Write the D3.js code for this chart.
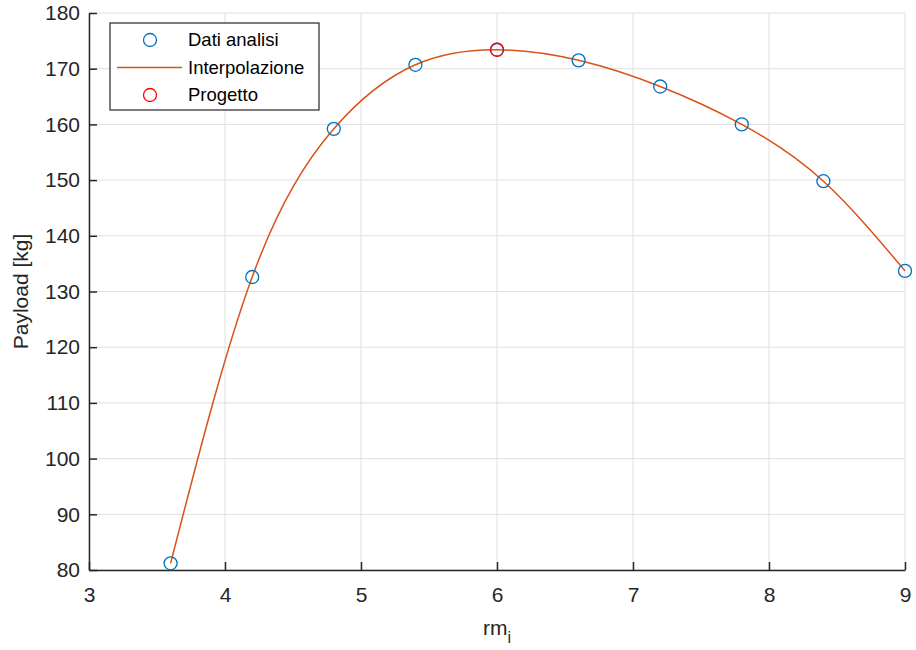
<!DOCTYPE html>
<html>
<head>
<meta charset="utf-8">
<script src="https://cdn.jsdelivr.net/npm/d3@7"></script>
<style>
  body { margin: 0; background: #fff; }
  svg { display: block; font-family: "Liberation Sans", Arial, sans-serif; }
</style>
</head>
<body>
<div id="chart"></div>
<script>
// data
const rmValues = [3.6, 4.2, 4.8, 5.4, 6.0, 6.6, 7.2, 7.8, 8.4, 9.0];
const payloadValues = [81.2, 132.6, 159.2, 170.7, 173.4, 171.5, 166.8, 160.0, 149.8, 133.7];
const projectPoint = [6.0, 173.4];
const xTicks = [3, 4, 5, 6, 7, 8, 9];
const yTicks = [80, 90, 100, 110, 120, 130, 140, 150, 160, 170, 180];
const legendLabels = ['Dati analisi', 'Interpolazione', 'Progetto'];

const W = 916, H = 650;
const margin = {top: 13, right: 11, bottom: 80, left: 89};
const width = W - margin.left - margin.right;
const height = H - margin.top - margin.bottom;

const blue = '#0072BD', orange = '#D95319', red = '#FF0000', axisCol = '#262626';

const svg = d3.select('#chart').append('svg')
    .attr('width', W)
    .attr('height', H);

const g = svg.append('g')
    .attr('transform', `translate(${margin.left},${margin.top})`);

const x = d3.scaleLinear().domain([3, 9]).range([0, width]);
const y = d3.scaleLinear().domain([80, 180]).range([height, 0]);

// grid
g.append('g').selectAll('line')
    .data(xTicks)
    .enter().append('line')
    .attr('x1', d => x(d)).attr('x2', d => x(d))
    .attr('y1', 0).attr('y2', height)
    .attr('stroke', '#dfdfdf').attr('stroke-width', 1);
g.append('g').selectAll('line')
    .data(yTicks)
    .enter().append('line')
    .attr('x1', 0).attr('x2', width)
    .attr('y1', d => y(d)).attr('y2', d => y(d))
    .attr('stroke', '#dfdfdf').attr('stroke-width', 1);

// axes (ticks pointing inward)
const xAxis = g.append('g')
    .attr('transform', `translate(0,${height})`)
    .call(d3.axisBottom(x).tickValues(xTicks).tickSizeInner(-8).tickSizeOuter(0).tickPadding(17).tickFormat(d3.format('d')));
const yAxis = g.append('g')
    .call(d3.axisLeft(y).tickValues(yTicks).tickSizeInner(-8).tickSizeOuter(0).tickPadding(9).tickFormat(d3.format('d')));

[xAxis, yAxis].forEach(a => {
    a.select('.domain').attr('stroke', axisCol).attr('stroke-width', 1.5);
    a.selectAll('.tick line').attr('stroke', axisCol).attr('stroke-width', 1.5);
    a.selectAll('.tick text')
        .attr('fill', axisCol)
        .style('font-size', '21px')
        .style('font-family', '"Liberation Sans", Arial, sans-serif');
});

// interpolation curve
const pts = rmValues.map((v, i) => [v, payloadValues[i]]);
g.append('path')
    .datum(pts)
    .attr('fill', 'none')
    .attr('stroke', orange)
    .attr('stroke-width', 1.5)
    .attr('d', d3.line().x(d => x(d[0])).y(d => y(d[1])).curve(d3.curveNatural));

// data points
g.append('g').selectAll('circle')
    .data(pts)
    .enter().append('circle')
    .attr('cx', d => x(d[0]))
    .attr('cy', d => y(d[1]))
    .attr('r', 6.5)
    .attr('fill', 'none')
    .attr('stroke', blue)
    .attr('stroke-width', 1.3);

// project point
g.append('circle')
    .attr('cx', x(projectPoint[0]))
    .attr('cy', y(projectPoint[1]))
    .attr('r', 6.5)
    .attr('fill', 'none')
    .attr('stroke', red)
    .attr('stroke-width', 1.3);

// axis labels
svg.append('text')
    .attr('transform', `translate(28,${margin.top + height / 2}) rotate(-90)`)
    .attr('text-anchor', 'middle')
    .attr('fill', axisCol)
    .style('font-size', '21px')
    .text('Payload [kg]');

const xl = svg.append('text')
    .attr('x', margin.left + width / 2)
    .attr('y', 635)
    .attr('text-anchor', 'middle')
    .attr('fill', axisCol)
    .style('font-size', '21px');
xl.append('tspan').text('rm');
xl.append('tspan').attr('dy', 8).style('font-size', '16px').text('i');

// legend
const legend = svg.append('g').attr('transform', 'translate(110,23)');
legend.append('rect')
    .attr('width', 209).attr('height', 87)
    .attr('fill', '#fff')
    .attr('stroke', axisCol).attr('stroke-width', 1.2);

const rowY = [17, 44.5, 72];
legend.append('circle')
    .attr('cx', 40).attr('cy', rowY[0]).attr('r', 6.5)
    .attr('fill', 'none').attr('stroke', blue).attr('stroke-width', 1.3);
legend.append('line')
    .attr('x1', 7).attr('x2', 72).attr('y1', rowY[1]).attr('y2', rowY[1])
    .attr('stroke', orange).attr('stroke-width', 1.5);
legend.append('circle')
    .attr('cx', 40).attr('cy', rowY[2]).attr('r', 6.5)
    .attr('fill', 'none').attr('stroke', red).attr('stroke-width', 1.3);

legend.selectAll('text.lbl')
    .data(legendLabels)
    .enter().append('text')
    .attr('class', 'lbl')
    .attr('x', 78)
    .attr('y', (d, i) => rowY[i])
    .attr('dy', '0.35em')
    .attr('fill', '#000')
    .style('font-size', '18.5px')
    .text(d => d);
</script>
</body>
</html>
